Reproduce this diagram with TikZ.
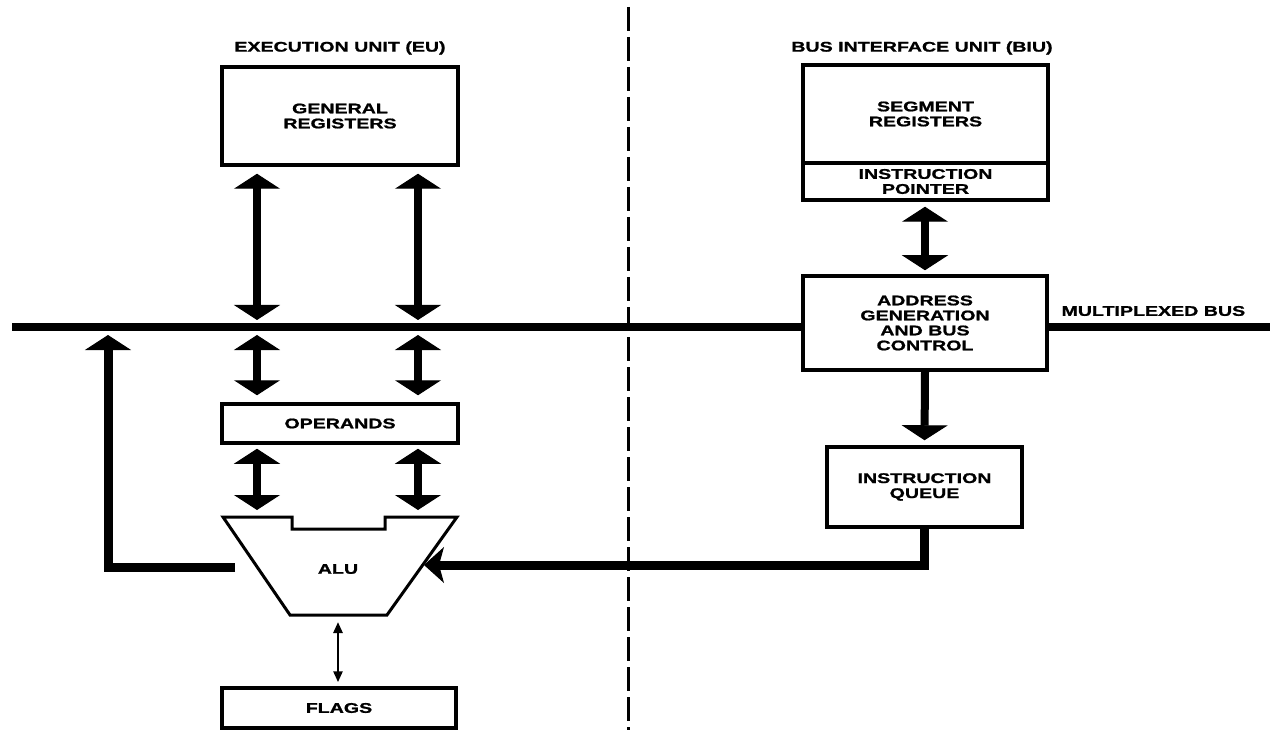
\documentclass[tikz,border=0pt]{standalone}
\usepackage{fontspec}
\newfontfamily\blockfont[FakeStretch=1.4, FakeBold=1.2]{Liberation Sans}
\usetikzlibrary{calc, positioning}
\usetikzlibrary{arrows.meta}

\begin{document}
\begin{tikzpicture}[x=1pt, y=-1pt,
  >={Triangle[width=46pt,length=15pt,line width=1pt]},
  every node/.style={font=\blockfont\bfseries\fontsize{14}{15}\selectfont, align=center},
  unit/.style={draw, line width=3.5pt, inner sep=0pt, fill=white},
  fat/.style={line width=8pt, <->},
  feed/.style={line width=9pt},
  bus/.style={line width=7pt},
  divider/.style={line width=3pt, dash pattern=on 24pt off 6pt},
  flagarrow/.style={line width=2.5pt, {Triangle[width=9pt,length=11pt]}-{Triangle[width=9pt,length=11pt]}},
  alubody/.style={line width=3pt, line join=miter}
]
\useasboundingbox (0,0) rectangle (1270,730);
\def\alutop{517}
\def\alubot{615}

\coordinate (busL) at (12,327);
\coordinate (busR) at (1270,327);
\coordinate (divtop) at (628,7);
\coordinate (divbot) at (628,730);
\coordinate (lcol) at (257,0);
\coordinate (rcol) at (418,0);

\draw[divider] (divtop) -- (divbot);

\node (eulabel) at (340,48) {EXECUTION UNIT (EU)};
\node (biulabel) at (922,48) {BUS INTERFACE UNIT (BIU)};

\node[unit, minimum width=236pt, minimum height=98pt] (genreg) at (340,116) {GENERAL\\REGISTERS};
\node[unit, minimum width=236pt, minimum height=39pt] (operands) at (340,423.5) {OPERANDS};
\node[unit, minimum width=234pt, minimum height=40pt] (flags) at (339,708) {FLAGS};

\node[unit, minimum width=245pt, minimum height=98pt] (segreg) at (925.5,114) {SEGMENT\\REGISTERS};
\node[unit, minimum width=245pt, minimum height=37pt] (ip) at (925.5,181.5) {INSTRUCTION\\POINTER};
\node[unit, minimum width=244pt, minimum height=94pt] (addr) at (925,323) {ADDRESS\\GENERATION\\AND BUS\\CONTROL};
\node[unit, minimum width=195pt, minimum height=80pt] (queue) at (924.5,487) {INSTRUCTION\\QUEUE};

\draw[bus] (busL) -- (addr.west |- busL);
\draw[bus] (addr.east |- busR) -- (busR);
\node[anchor=west] (buslabel) at (1058,311) {MULTIPLEXED BUS};

\draw[alubody] (223,\alutop) -- (292,\alutop) -- (292,529) -- (385,529) -- (385,\alutop)
  -- (457,\alutop) -- (387,\alubot) -- (290,\alubot) -- cycle;
\node (alu) at (338,569) {ALU};
\coordinate (alutop) at (340,\alutop);
\coordinate (alubot) at (338,\alubot);
\coordinate (aluin) at (424,565);
\coordinate (fbstart) at (235,567);
\coordinate (fbcorner) at (108,567);

\foreach \c in {lcol, rcol} {
  \draw[fat, shorten <=7pt, shorten >=7pt] (genreg.south -| \c) -- (busL -| \c);
  \draw[fat, shorten <=8pt, shorten >=7pt] (busL -| \c) -- (operands.north -| \c);
  \draw[fat, shorten <=4pt, shorten >=7pt] (operands.south -| \c) -- (alutop -| \c);
}

\draw[fat, shorten <=5pt, shorten >=4pt] (ip.south -| addr.north) -- (addr.north);
\draw[line width=8pt, ->, shorten >=5pt] (addr.south) -- (queue.north);

\draw[feed, ->, shorten >=8pt] (fbstart) -- (fbcorner) -- (fbcorner |- busL);
\draw[feed, -{Stealth[width=36pt,length=20pt,inset=5pt,line width=1pt]}] (queue.south) |- (aluin);

\draw[flagarrow, shorten <=7pt, shorten >=4pt] (alubot) -- (flags.north -| alubot);
\end{tikzpicture}
\end{document}
